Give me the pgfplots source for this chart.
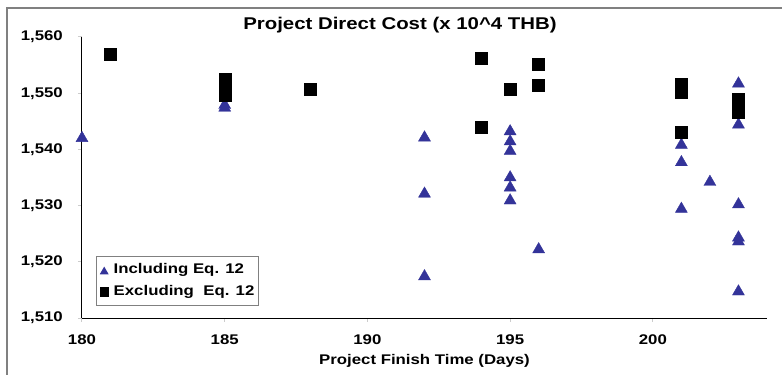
\documentclass[border=0pt]{standalone}
\usepackage{pgfplots}
\pgfplotsset{compat=1.18}
\usepackage{fontspec}
\setmainfont{Liberation Sans}[FakeStretch=1.2]
\definecolor{incl}{HTML}{333399}
\newcommand{\lblfont}{\bfseries\fontsize{14bp}{16bp}\selectfont}
\begin{document}
\begin{tikzpicture}
\useasboundingbox (-82bp,-57bp) rectangle (700bp,318bp);
\fill[white] (-82bp,-57bp) rectangle (700bp,318bp);
\draw[gray, line width=1.2bp] (-75bp,-57bp) -- (-75bp,310bp) -- (700bp,310bp);
\begin{axis}[
  at={(0,0)}, anchor=south west,
  scale only axis, width=685bp, height=281bp,
  xmin=180, xmax=204, ymin=1510, ymax=1560,
  xtick={180,185,190,195,200}, ytick={1510,1520,1530,1540,1550,1560},
  axis x line*=bottom, axis y line*=left,
  axis line style={black, line width=1bp, -},
  tick style={gray!40, line width=1bp},
  tick align=outside, major tick length=4bp,
  ticklabel style={font=\lblfont},
  xticklabel style={anchor=north, inner sep=0pt},
  yticklabel style={anchor=east, inner sep=0pt},
  xticklabel shift=13bp, yticklabel shift=15bp,
  /pgf/number format/1000 sep={,},
  /pgf/number format/assume math mode=true,
  clip=false,
  title={Project Direct Cost (x 10\textasciicircum 4 THB)},
  title style={at={(axis description cs:0.4642,1.007)}, anchor=base, inner sep=0pt,
    font=\bfseries\fontsize{17bp}{20bp}\selectfont},
  xlabel={Project Finish Time (Days)},
  xlabel style={at={(axis description cs:0.5,-0.167)}, anchor=base, inner sep=0pt, font=\lblfont},
  legend style={at={(axis description cs:0.0200,0.0427)}, anchor=south west,
    draw=gray, line width=1bp, fill=white, font=\lblfont,
    inner xsep=3bp, inner ysep=5bp, row sep=5bp,
    nodes={inner sep=1.5bp, text height=10.5bp, text depth=3.5bp}},
  legend cell align=left,
  legend image code/.code={\path[draw=none, fill=none] (-5bp,0bp) -- (8bp,0bp);
    \draw[#1, mark size=4.1bp] plot coordinates {(0bp,0bp)};},
]
\addplot[only marks, mark=triangle*, mark size=6.9bp, color=incl, fill=incl,
  mark options={yshift=-1.7bp}] coordinates {
(180,1542.3) (185,1548.2) (185,1547.7)
(192,1542.4) (192,1532.4) (192,1517.7)
(195,1543.5) (195,1541.7) (195,1540.0) (195,1535.3) (195,1533.5) (195,1531.2)
(196,1522.5)
(201,1541.1) (201,1538.0) (201,1529.7)
(202,1534.5)
(203,1552.0) (203,1544.7) (203,1530.5) (203,1524.6) (203,1523.9) (203,1515.0)
};
\addlegendentry{Including Eq. 12}
\addplot[only marks, mark=square*, mark size=6bp, color=black, fill=black] coordinates {
(181,1556.9)
(185,1552.5) (185,1551.0) (185,1549.6)
(188,1550.7)
(194,1556.3) (194,1544.0)
(195,1550.7)
(196,1555.2) (196,1551.4)
(201,1551.6) (201,1550.2) (201,1543.0)
(203,1549.0) (203,1546.6)
};
\addlegendentry{Excluding~~Eq. 12}
\end{axis}
\end{tikzpicture}
\end{document}
